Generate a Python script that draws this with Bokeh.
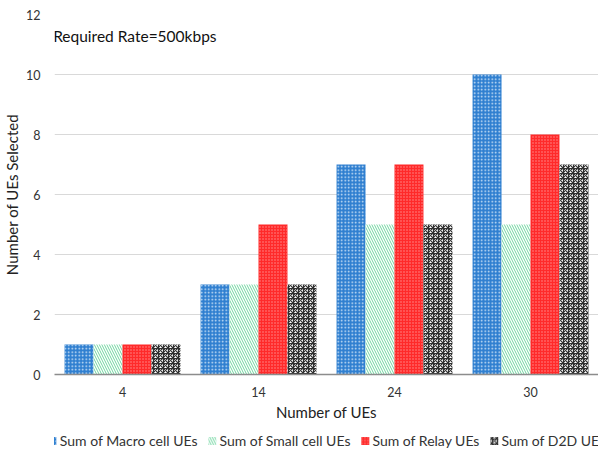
from bokeh.plotting import figure
from bokeh.layouts import column
from bokeh.models import ColumnDataSource, Legend, LegendItem, Label, FixedTicker, Range1d
from bokeh.embed import file_html
from bokeh.resources import INLINE

# Number of UEs in the network (x categories)
categories = ["4", "14", "24", "30"]
# Selected UEs per tier
macro_ues = [1, 3, 7, 10]
small_ues = [1, 3, 5, 5]
relay_ues = [1, 5, 7, 8]
d2d_ues = [1, 3, 5, 7]

FONT = "Lato"
centers = [i + 0.5 for i in range(len(categories))]
bar_w = 0.213

p = figure(frame_width=544, frame_height=360, output_backend="svg", toolbar_location=None,
           x_range=Range1d(0, 4), y_range=Range1d(0, 12),
           min_border_left=54, min_border_right=0, min_border_top=14,
           min_border_bottom=0)
p.outline_line_color = None
p.background_fill_color = "white"

series = [
    ("Sum of Macro cell UEs", macro_ues,
     dict(fill_color="#2f7fd0", hatch_pattern="dot", hatch_color="#d6e8f8", hatch_scale=3.5, hatch_weight=1.5)),
    ("Sum of Small cell UEs", small_ues,
     dict(fill_color="#ffffff", hatch_pattern="left_diagonal_line", hatch_color="#6fd59f", hatch_scale=5, hatch_weight=1.0)),
    ("Sum of Relay UEs", relay_ues,
     dict(fill_color="#ff2a2a", hatch_pattern="dot", hatch_color="#ff9090", hatch_scale=3, hatch_weight=1)),
    ("Sum of D2D UEs", d2d_ues,
     dict(fill_color="#ffffff", hatch_pattern="criss_cross", hatch_color="#303030", hatch_scale=5, hatch_weight=1.2)),
]

# legend strip below the chart
leg = figure(width=598, height=30, output_backend="svg", toolbar_location=None,
             x_range=Range1d(0, 1), y_range=Range1d(0, 1),
             min_border=0, min_border_top=4, outline_line_color=None)
leg.axis.visible = False
leg.grid.visible = False

items = []
for k, (name, vals, style) in enumerate(series):
    off = (k - 1.5) * bar_w
    src = ColumnDataSource(dict(x=[c + off for c in centers], top=vals))
    p.vbar(x="x", top="top", bottom=0, width=bar_w, source=src,
           line_color=None, **style)
    # same styling on an off-range glyph, used only for the legend swatch
    swatch = leg.vbar(x=[-5], top=[0], bottom=0, width=0.1, line_color=None, **style)
    items.append(LegendItem(label=name, renderers=[swatch]))

# axes
p.xaxis.ticker = FixedTicker(ticks=centers)
p.xaxis.major_label_overrides = {c: lab for c, lab in zip(centers, categories)}
p.xaxis.major_tick_line_color = None
p.xaxis.minor_tick_line_color = None
p.xaxis.axis_line_color = "#8c8c8c"
p.xaxis.axis_line_width = 1.3
p.xaxis.major_label_text_font = FONT
p.xaxis.major_label_text_font_size = "12.5px"
p.xaxis.major_label_text_color = "#333333"
p.xaxis.major_label_standoff = 6
p.xaxis.axis_label = "Number of UEs"
p.xaxis.axis_label_text_font = FONT
p.xaxis.axis_label_text_font_size = "15px"
p.xaxis.axis_label_text_font_style = "normal"
p.xaxis.axis_label_text_color = "#222222"
p.xaxis.axis_label_standoff = 3

p.yaxis.ticker = FixedTicker(ticks=[0, 2, 4, 6, 8, 10, 12])
p.yaxis.major_tick_line_color = None
p.yaxis.minor_tick_line_color = None
p.yaxis.axis_line_color = None
p.yaxis.major_label_text_font = FONT
p.yaxis.major_label_text_font_size = "12.5px"
p.yaxis.major_label_text_color = "#333333"
p.yaxis.major_label_standoff = 8
p.yaxis.axis_label = "Number of UEs Selected"
p.yaxis.axis_label_text_font = FONT
p.yaxis.axis_label_text_font_size = "15px"
p.yaxis.axis_label_text_font_style = "normal"
p.yaxis.axis_label_text_color = "#222222"
p.yaxis.axis_label_standoff = 2

p.xgrid.grid_line_color = None
p.ygrid.grid_line_color = "#d9d9d9"
p.ygrid.grid_line_width = 1.2

p.add_layout(Label(x=-0.01, y=11.3, text="Required Rate=500kbps",
                   text_font=FONT, text_font_size="15.5px", text_color="#111111",
                   text_baseline="middle"))

legend = Legend(items=items, orientation="horizontal", location="center",
                label_text_font=FONT, label_text_font_size="14px",
                label_text_color="#333333", glyph_width=10, glyph_height=10,
                spacing=9, label_standoff=3, padding=0, margin=0,
                label_height=14, border_line_color=None, background_fill_alpha=0)
leg.add_layout(legend, "center")

layout = column(p, leg, spacing=0)
open("out.html", "w").write(file_html(layout, INLINE))
